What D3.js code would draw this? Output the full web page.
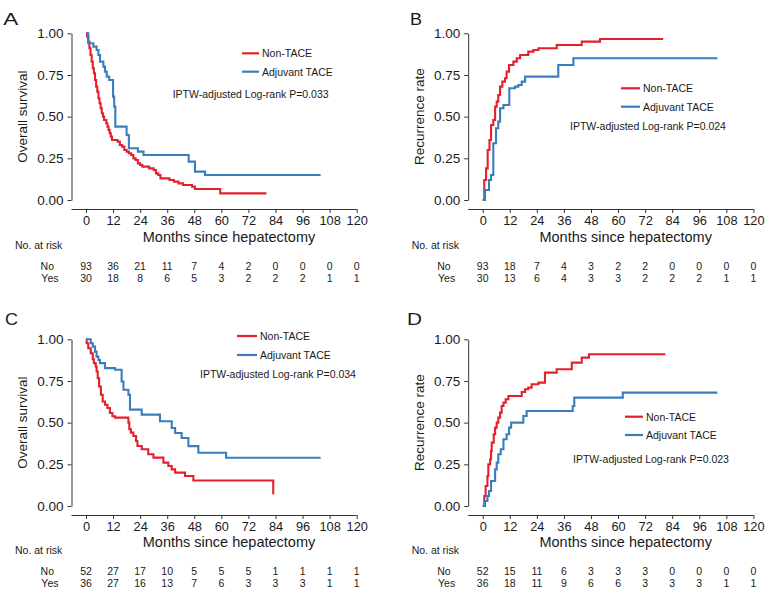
<!DOCTYPE html>
<html><head><meta charset="utf-8">
<script src="https://cdn.jsdelivr.net/npm/d3@7"></script>
<style>
body{margin:0;background:#fff}
text{font-family:"Liberation Sans",Arial,Helvetica,sans-serif;fill:#1a1a1a}
</style>
</head><body>
<svg id="chart" width="771" height="596"></svg>
<script>
// ---------- data ----------
const xTicks = [0,12,24,36,48,60,72,84,96,108,120];
const yTicks = [0,0.25,0.5,0.75,1];
const groupNames = ["Non-TACE","Adjuvant TACE"];
const riskRowNames = ["No","Yes"];
const xTitle = "Months since hepatectomy";
const riskTitle = "No. at risk";

// Panel A: overall survival (cohort 1)
const A_non = [[0,1],[0.5,0.98],[1,0.95],[1.5,0.91],[2,0.87],[2.5,0.83],[3,0.79],[3.5,0.76],[4,0.72],[4.5,0.68],[5,0.65],[5.5,0.61],[6,0.58],[6.5,0.55],[7,0.52],[7.5,0.50],[8,0.48],[9,0.46],[9.5,0.44],[10,0.42],[10.5,0.40],[11,0.38],[11.5,0.36],[14,0.35],[15,0.33],[16,0.32],[17,0.30],[18,0.29],[19,0.28],[20,0.27],[21,0.25],[22,0.24],[23,0.22],[24,0.21],[25,0.20],[28,0.19],[30,0.18],[31,0.16],[32,0.15],[33,0.13],[37,0.12],[39,0.11],[41,0.10],[43,0.09],[47,0.08],[48.3,0.066],[59.5,0.04],[80,0.04]];
const A_tace = [[0,1],[1,0.94],[3.3,0.92],[4.7,0.90],[5.5,0.87],[6.2,0.83],[7.7,0.80],[8.4,0.77],[9.2,0.74],[10.3,0.72],[12,0.62],[12.5,0.56],[13,0.44],[18,0.39],[19,0.31],[23,0.29],[25.5,0.27],[45.5,0.23],[48.3,0.17],[52.8,0.15],[104,0.15]];
// Panel B: recurrence (cohort 1)
const B_non = [[0,0],[0.7,0.12],[1.5,0.19],[2.2,0.30],[3,0.36],[3.7,0.45],[4.7,0.48],[5.5,0.56],[6.2,0.59],[6.9,0.63],[7.7,0.68],[8.7,0.71],[9.9,0.73],[10.6,0.77],[11.7,0.81],[13.6,0.83],[15.1,0.85],[16.6,0.87],[20.2,0.89],[22.5,0.90],[24.7,0.91],[32.8,0.93],[43.9,0.95],[52,0.966],[80,0.966]];
const B_tace = [[0,0],[1,0.06],[2.8,0.12],[3.7,0.15],[4.7,0.34],[5.9,0.43],[6.9,0.47],[7.7,0.55],[9.2,0.57],[11.8,0.67],[14.3,0.68],[15.8,0.69],[17.3,0.71],[18.8,0.74],[33.5,0.81],[40.2,0.85],[104,0.85]];
// Panel C: overall survival (cohort 2)
const C_non = [[0,1],[0.3,0.976],[1,0.946],[2.1,0.916],[3,0.88],[3.5,0.857],[4.3,0.837],[4.7,0.807],[5.2,0.767],[5.8,0.717],[6.6,0.667],[7.4,0.627],[8.4,0.607],[9.5,0.588],[10.6,0.558],[11.7,0.538],[12.9,0.53],[18.8,0.50],[19.2,0.46],[19.9,0.44],[21,0.42],[22.2,0.39],[22.8,0.36],[24.7,0.34],[27.6,0.31],[29.9,0.29],[34.3,0.26],[36.5,0.24],[38,0.22],[39.5,0.20],[43.9,0.18],[47.6,0.153],[83,0.07]];
const C_tace = [[0,1],[2.1,0.976],[3,0.956],[4,0.926],[4.7,0.896],[5.5,0.876],[6.2,0.857],[8.4,0.827],[12.9,0.817],[15.8,0.747],[16.6,0.697],[18.8,0.667],[19.5,0.578],[24.7,0.548],[32.8,0.508],[38,0.468],[39.5,0.438],[42.4,0.408],[45.4,0.359],[49.8,0.319],[62.1,0.289],[104,0.289]];
// Panel D: recurrence (cohort 2)
const D_non = [[0,0],[0.7,0.06],[1.3,0.12],[2.1,0.18],[2.5,0.25],[3.3,0.28],[3.7,0.33],[4,0.38],[4.9,0.43],[5.5,0.47],[6.2,0.50],[6.9,0.53],[7.7,0.56],[8.4,0.60],[9.2,0.62],[10.2,0.64],[11.4,0.66],[17.3,0.684],[18.8,0.70],[20.2,0.71],[21.7,0.73],[24.7,0.74],[27.6,0.80],[32.8,0.82],[39.5,0.86],[43.9,0.89],[47.1,0.91],[81,0.91]];
const D_tace = [[0,0],[1,0.03],[2.1,0.06],[2.8,0.09],[3.7,0.15],[5.5,0.22],[6.2,0.26],[6.9,0.31],[8,0.34],[9.2,0.40],[10.6,0.43],[11.7,0.47],[12.6,0.50],[18,0.54],[19.5,0.57],[39.9,0.60],[40.6,0.65],[62.1,0.68],[104,0.68]];

const riskA_no  = [93,36,21,11,7,4,2,0,0,0,0];
const riskA_yes = [30,18,8,6,5,3,2,2,2,1,1];
const riskB_no  = [93,18,7,4,3,2,2,0,0,0,0];
const riskB_yes = [30,13,6,4,3,3,2,2,2,1,1];
const riskC_no  = [52,27,17,10,5,5,5,1,1,1,1];
const riskC_yes = [36,27,16,13,7,6,3,3,3,1,1];
const riskD_no  = [52,15,11,6,3,3,3,0,0,0,0];
const riskD_yes = [36,18,11,9,6,6,3,3,3,1,1];

const pTexts = ["IPTW-adjusted Log-rank P=0.033","IPTW-adjusted Log-rank P=0.024","IPTW-adjusted Log-rank P=0.034","IPTW-adjusted Log-rank P=0.023"];
const yTitles = ["Overall survival","Recurrence rate","Overall survival","Recurrence rate"];
const letters = ["A","B","C","D"];

// ---------- layout ----------
const colors = ["#E4202A","#3A7DBD"];
const panels = [
  {ox:0, oy:0, series:[A_non,A_tace], risk:[riskA_no,riskA_yes], leg:{x:242,y:53.3,dy:18.4,len:17}, p:{x:172.7,y:98}, let:{x:3.3,y:25,w:15}, riskY:0},
  {ox:396.7, oy:0, series:[B_non,B_tace], risk:[riskB_no,riskB_yes], leg:{x:621,y:88.3,dy:18.4,len:19}, p:{x:570,y:130}, let:{x:410,y:25,w:12}, riskY:0},
  {ox:0, oy:306, series:[C_non,C_tace], risk:[riskC_no,riskC_yes], leg:{x:237,y:336,dy:19,len:20}, p:{x:200,y:378}, let:{x:5,y:325,w:13}, riskY:305},
  {ox:396.7, oy:306, series:[D_non,D_tace], risk:[riskD_no,riskD_yes], leg:{x:625,y:416.7,dy:18.3,len:18}, p:{x:573,y:463}, let:{x:407,y:325,w:15}, riskY:305}
];

const svg = d3.select("#chart");

panels.forEach((P, i) => {
  const g = svg.append("g");
  const x = d3.scaleLinear().domain([0,120]).range([86+P.ox, 356.7+P.ox]);
  const y = d3.scaleLinear().domain([0,1]).range([200+P.oy, 33.3+P.oy]);
  const axX = 71.5 + P.ox;
  const axY = 209 + P.oy;

  // y axis
  const ya = g.append("g").attr("transform", `translate(${axX},0)`)
    .call(d3.axisLeft(y).tickValues(yTicks).tickFormat(d3.format(".2f")).tickSize(4).tickSizeOuter(0).tickPadding(4));
  ya.selectAll("text").attr("font-size", 13.5).style("font-family", '"Liberation Sans",Arial,sans-serif').attr("fill","#1a1a1a");
  ya.selectAll("path,line").attr("stroke","#333").attr("stroke-width",1);

  // x axis
  const xa = g.append("g").attr("transform", `translate(0,${axY})`)
    .call(d3.axisBottom(x).tickValues(xTicks).tickSize(4).tickSizeOuter(0).tickPadding(3));
  xa.select(".domain").remove();
  xa.append("line").attr("x1", axX).attr("x2", x(120)).attr("y1",0.5).attr("y2",0.5).attr("stroke","#333");
  xa.selectAll("text").attr("font-size", 12.8).style("font-family", '"Liberation Sans",Arial,sans-serif').attr("fill","#1a1a1a");
  xa.selectAll(".tick line").attr("stroke","#333");

  // y title
  g.append("text")
    .attr("transform", `translate(${axX-44.5},${(y(0)+y(1))/2}) rotate(-90)`)
    .attr("text-anchor","middle").attr("font-size",13.5).text(yTitles[i]);

  // x title
  g.append("text").attr("x", 229 + P.ox).attr("y", 242 + P.oy + (P.riskY ? -1.5 : 0))
    .attr("text-anchor","middle").attr("font-size",14.5).text(xTitle);

  // panel letter
  g.append("text").attr("x", P.let.x).attr("y", P.let.y).attr("font-size",17)
    .attr("textLength", P.let.w).attr("lengthAdjust","spacingAndGlyphs").text(letters[i]);

  // curves
  const line = d3.line().x(d => x(d[0])).y(d => y(d[1])).curve(d3.curveStepAfter);
  P.series.forEach((s, k) => {
    g.append("path").datum(s).attr("d", line).attr("fill","none")
      .attr("stroke", colors[k]).attr("stroke-width", 2.1);
  });

  // legend
  groupNames.forEach((name, k) => {
    const ly = P.leg.y + k*P.leg.dy;
    g.append("line").attr("x1", P.leg.x).attr("x2", P.leg.x + P.leg.len).attr("y1", ly).attr("y2", ly)
      .attr("stroke", colors[k]).attr("stroke-width", 2.2);
    g.append("text").attr("x", P.leg.x + P.leg.len + 3).attr("y", ly + 3.8).attr("font-size",10.5).text(name);
  });
  g.append("text").attr("x", P.p.x).attr("y", P.p.y).attr("font-size",10.5).text(pTexts[i]);

  // risk table
  const rb = P.riskY;
  g.append("text").attr("x", 15 + P.ox).attr("y", 249 + rb).attr("font-size",10.5).text(riskTitle);
  const rowY = [270 + rb, 282 + rb];
  const labelEnd = [54 + P.ox, 58.5 + P.ox];
  riskRowNames.forEach((rn, r) => {
    g.append("text").attr("x", labelEnd[r]).attr("y", rowY[r]).attr("text-anchor","end").attr("font-size",10.5).text(rn);
    g.selectAll(null).data(P.risk[r]).enter().append("text")
      .attr("x", (d, j) => x(xTicks[j])).attr("y", rowY[r])
      .attr("text-anchor","middle").attr("font-size",10.5).text(d => d);
  });
});
</script>
</body></html>
